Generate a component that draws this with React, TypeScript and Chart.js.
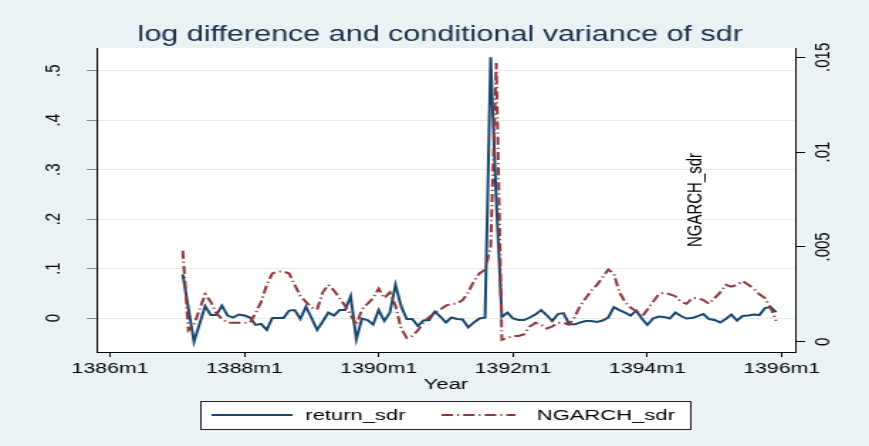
import React, { useEffect, useRef } from "react";
import { Chart, registerables } from "chart.js";

Chart.register(...registerables);

// ---------- data ----------
const titleText = "log difference and conditional variance of sdr";
const firstPeriod = "1387m2"; // first monthly observation
const xTickValues = [0, 24, 48, 72, 96, 120]; // months since 1386m1
const xTickLabels = ["1386m1", "1388m1", "1390m1", "1392m1", "1394m1", "1396m1"];
const leftTickValues = [0, 0.1, 0.2, 0.3, 0.4, 0.5];
const leftTickLabels = ["0", ".1", ".2", ".3", ".4", ".5"];
const rightTickValues = [0, 0.005, 0.01, 0.015];
const rightTickLabels = ["0", ".005", ".01", ".015"];
const seriesNames = ["return_sdr", "NGARCH_sdr"];

const returnSdr = [
  0.088, 0.02, -0.048, -0.012, 0.024, 0.006, 0.006, 0.025, 0.005, 0.001,
  0.007, 0.005, 0.001, -0.014, -0.012, -0.024, 0.0, 0.0, 0.0, 0.015,
  0.016, -0.002, 0.023, 0.0, -0.024, -0.007, 0.011, 0.005, 0.016, 0.016,
  0.044, -0.043, -0.001, -0.004, -0.013, 0.016, -0.006, 0.011, 0.067, 0.024,
  -0.002, -0.002, -0.016, -0.005, -0.004, 0.013, 0.003, -0.009, 0.001, -0.002,
  -0.003, -0.019, -0.009, -0.001, 0.001, 0.527, 0.24, 0.002, 0.011, -0.001,
  -0.004, -0.004, 0.001, 0.007, 0.016, 0.006, -0.006, 0.008, 0.01, -0.012,
  -0.013, -0.009, -0.006, -0.006, -0.008, -0.005, 0.001, 0.022, 0.016, 0.011,
  0.005, 0.015, -0.001, -0.014, -0.001, 0.003, 0.002, -0.001, 0.011, 0.004,
  -0.001, 0.0, 0.004, 0.008, -0.002, -0.004, -0.009, -0.002, 0.007, -0.005,
  0.004, 0.005, 0.007, 0.006, 0.02, 0.022, 0.012,
];

const ngarchSdr = [
  0.0048, 0.0006, 0.0009, 0.0017, 0.0025, 0.0021, 0.0015, 0.0012, 0.001, 0.001,
  0.001, 0.001, 0.001, 0.0015, 0.0021, 0.003, 0.0036, 0.0037, 0.0037, 0.0036,
  0.003, 0.0024, 0.0021, 0.0018, 0.0017, 0.0026, 0.003, 0.0027, 0.0023, 0.0019,
  0.0014, 0.0009, 0.0017, 0.002, 0.0023, 0.0028, 0.0023, 0.0026, 0.0019, 0.0007,
  0.0002, 0.0003, 0.0006, 0.001, 0.0013, 0.0015, 0.0017, 0.0019, 0.002, 0.002,
  0.0022, 0.0026, 0.0032, 0.0036, 0.0038, 0.005, 0.0147, 0.0001, 0.0002, 0.0003,
  0.0003, 0.0004, 0.0008, 0.001, 0.0009, 0.0007, 0.0008, 0.001, 0.001, 0.0009,
  0.0013, 0.0019, 0.0023, 0.0027, 0.003, 0.0034, 0.0038, 0.0036, 0.0026, 0.0021,
  0.0018, 0.0016, 0.0013, 0.0017, 0.0021, 0.0025, 0.0026, 0.0025, 0.0024, 0.0021,
  0.002, 0.0023, 0.0023, 0.0022, 0.002, 0.0023, 0.0026, 0.003, 0.0029, 0.003,
  0.0032, 0.003, 0.0028, 0.0025, 0.0023, 0.0018, 0.0011,
];

// ---------- styling ----------
const W = 612; // internal drawing width; stretched to 869 like the reference
const H = 446;
const FONT = '"Liberation Sans", Arial, sans-serif';
const NAVY = "#1a476f";
const MAROON = "#90353b";
const BG = "#eaf2f3";
const DASH = [8, 3, 1.2, 3];

function periodIndex(p: string): number {
  const [y, m] = p.split("m").map(Number);
  return (y - 1386) * 12 + (m - 1);
}

const decorPlugin = {
  id: "decor",
  beforeDraw(chart: any) {
    const { ctx, chartArea: a } = chart;
    ctx.save();
    ctx.fillStyle = BG;
    ctx.fillRect(0, 0, chart.width, chart.height);
    ctx.fillStyle = "#ffffff";
    ctx.fillRect(a.left, a.top, a.right - a.left, a.bottom - a.top);
    ctx.restore();
  },
  afterDraw(chart: any) {
    const { ctx, chartArea: a, scales } = chart;
    ctx.save();
    // title
    ctx.fillStyle = "#1c2e4c";
    ctx.font = `21.5px ${FONT}`;
    ctx.textAlign = "center";
    ctx.textBaseline = "alphabetic";
    ctx.fillText(titleText, (a.left + a.right) / 2 - 4, 41);

    // rotated tick labels
    ctx.fillStyle = "#000";
    ctx.font = `15px ${FONT}`;
    ctx.textAlign = "center";
    ctx.textBaseline = "middle";
    leftTickValues.forEach((v, i) => {
      const y = scales.y.getPixelForValue(v);
      ctx.save();
      ctx.translate(a.left - 30, y);
      ctx.rotate(-Math.PI / 2);
      ctx.fillText(leftTickLabels[i], 0, 0);
      ctx.restore();
    });
    rightTickValues.forEach((v, i) => {
      const y = scales.y2.getPixelForValue(v);
      ctx.save();
      ctx.translate(a.right + 20, y);
      ctx.rotate(-Math.PI / 2);
      ctx.fillText(rightTickLabels[i], 0, 0);
      ctx.restore();
    });

    // right-axis title placed inside the plot as in the reference
    ctx.save();
    ctx.translate(a.right - 70, (a.top + a.bottom) / 2 + 0);
    ctx.rotate(-Math.PI / 2);
    ctx.font = `15px ${FONT}`;
    ctx.fillText(seriesNames[1], 0, 0);
    ctx.restore();

    // legend
    const bx = 141, by = 401, bw = 345, bh = 28;
    ctx.fillStyle = "#ffffff";
    ctx.fillRect(bx, by, bw, bh);
    ctx.strokeStyle = "#222";
    ctx.lineWidth = 1;
    ctx.strokeRect(bx + 0.5, by + 0.5, bw, bh);
    const ly = by + bh / 2;
    ctx.lineWidth = 2;
    ctx.strokeStyle = NAVY;
    ctx.setLineDash([]);
    ctx.beginPath();
    ctx.moveTo(bx + 8, ly);
    ctx.lineTo(bx + 65, ly);
    ctx.stroke();
    ctx.strokeStyle = MAROON;
    ctx.setLineDash(DASH);
    ctx.beginPath();
    ctx.moveTo(bx + 170, ly);
    ctx.lineTo(bx + 222, ly);
    ctx.stroke();
    ctx.setLineDash([]);
    ctx.fillStyle = "#000";
    ctx.font = `15.5px ${FONT}`;
    ctx.textAlign = "left";
    ctx.textBaseline = "middle";
    ctx.fillText(seriesNames[0], bx + 74, ly + 1);
    ctx.fillText(seriesNames[1], bx + 237, ly + 1);
    ctx.restore();
  },
};

export default function App() {
  const ref = useRef<HTMLCanvasElement | null>(null);

  useEffect(() => {
    if (!ref.current) return;
    const start = periodIndex(firstPeriod);
    const retData = returnSdr.map((v, i) => ({ x: start + i, y: v }));
    const ngData = ngarchSdr.map((v, i) => ({ x: start + i, y: v }));

    const chart = new Chart(ref.current, {
      type: "line",
      data: {
        datasets: [
          {
            label: seriesNames[0],
            data: retData,
            yAxisID: "y",
            borderColor: NAVY,
            borderWidth: 2,
            pointRadius: 0,
            tension: 0,
            fill: false,
            order: 1,
          },
          {
            label: seriesNames[1],
            data: ngData,
            yAxisID: "y2",
            borderColor: MAROON,
            borderWidth: 2,
            borderDash: DASH,
            pointRadius: 0,
            tension: 0,
            fill: false,
            order: 0,
          },
        ],
      },
      options: {
        responsive: false,
        animation: false,
        devicePixelRatio: 1,
        layout: { padding: { top: 48, left: 0, right: 0, bottom: 0 } },
        plugins: {
          legend: { display: false },
          title: { display: false },
          tooltip: { enabled: false },
        },
        scales: {
          x: {
            type: "linear",
            position: "bottom",
            min: -2.4,
            max: 122.4,
            afterBuildTicks: (s: any) => {
              s.ticks = xTickValues.map((v) => ({ value: v }));
            },
            afterFit: (s: any) => {
              s.height = H - 352;
            },
            grid: {
              display: true,
              drawOnChartArea: false,
              drawTicks: true,
              tickLength: 5,
              tickColor: "#000",
            },
            border: { display: true, color: "#000", width: 1 },
            ticks: {
              autoSkip: false,
              maxRotation: 0,
              minRotation: 0,
              padding: 4,
              color: "#000",
              font: { family: FONT, size: 15, lineHeight: 1 },
              callback: (v: any) => {
                const i = xTickValues.indexOf(Number(v));
                return i >= 0 ? xTickLabels[i] : "";
              },
            },
            title: {
              display: true,
              text: "Year",
              color: "#000",
              font: { family: FONT, size: 15.5, lineHeight: 1 },
              padding: { top: 0, bottom: 54 },
            },
          },
          y: {
            type: "linear",
            position: "left",
            min: -0.0687,
            max: 0.5459,
            afterBuildTicks: (s: any) => {
              s.ticks = leftTickValues.map((v) => ({ value: v }));
            },
            afterFit: (s: any) => {
              s.width = 68;
            },
            grid: {
              display: true,
              drawOnChartArea: true,
              color: "#e4ecee",
              lineWidth: 1,
              drawTicks: true,
              tickLength: 7,
              tickColor: "#8a8a8a",
            },
            border: { display: true, color: "#000", width: 1 },
            ticks: { display: false },
          },
          y2: {
            type: "linear",
            position: "right",
            min: -0.000543,
            max: 0.01549,
            afterBuildTicks: (s: any) => {
              s.ticks = rightTickValues.map((v) => ({ value: v }));
            },
            afterFit: (s: any) => {
              s.width = W - 560;
            },
            grid: {
              display: true,
              drawOnChartArea: false,
              drawTicks: true,
              tickLength: 7,
              tickColor: "#000",
            },
            border: { display: true, color: "#000", width: 1 },
            ticks: { display: false },
          },
        },
      },
      plugins: [decorPlugin],
    } as any);

    return () => chart.destroy();
  }, []);

  return (
    <div
      style={{
        position: "fixed",
        left: 0,
        top: 0,
        width: 869,
        height: 446,
        background: BG,
        overflow: "hidden",
      }}
    >
      <canvas
        ref={ref}
        width={W}
        height={H}
        style={{ width: 869, height: 446, display: "block" }}
      />
    </div>
  );
}
